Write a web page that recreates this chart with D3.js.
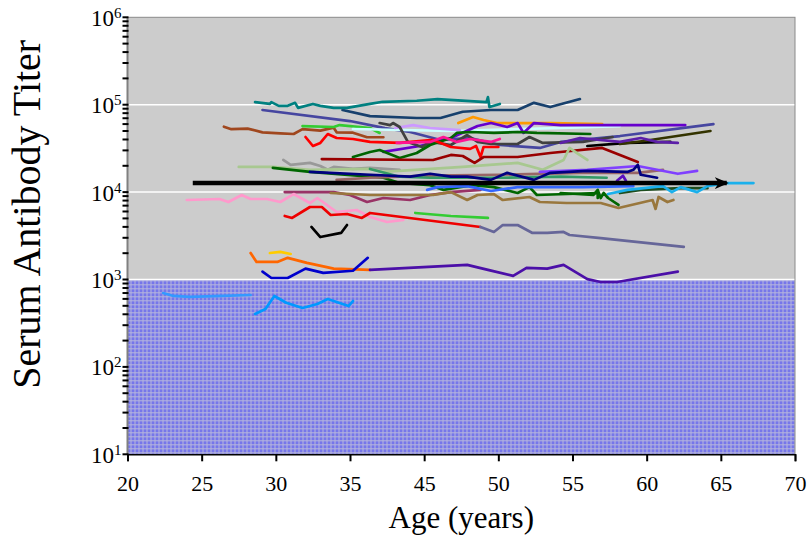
<!DOCTYPE html>
<meta charset="utf-8">

<!-- Load d3.js -->
<script src="https://d3js.org/d3.v7.min.js"></script>

<style>
    body { margin: 0; background: #fff; }
    text { font-family: "Liberation Serif", "Times New Roman", serif; fill: #000; }
    .subject { fill: none; stroke-width: 2.7; stroke-linejoin: round; stroke-linecap: round; }
</style>

<body>
<div id="my_dataviz"></div>

<script>

    // axis labels (the original axis skips the 40 label)
    var xTicks = [20, 25, 30, 35, 45, 50, 55, 60, 65, 70];
    var yExponents = [1, 2, 3, 4, 5, 6];
    var gridExponents = [3, 4, 5];
    var protectiveTiter = 1000;

    // population trend arrow: [age start, age end], titer
    var arrowAges = [24.4, 65.4];
    var arrowTiter = 12700;

    // individual subjects: [age, titer]
    var s01 = [[28.6,107000],[29.6,102000],[29.7,107000],[30.2,97000],[30.8,97000],[31.3,105000],[31.5,92000],[32.5,102000],[33.0,97000],[33.9,92000],[34.8,92000],[37.7,102000],[39.4,108000],[44.0,111000],[45.9,116000],[49.2,107000],[49.3,122000],[49.4,94000],[50.1,102000]];
    var s02 = [[34.5,87000],[37.7,74000],[44.0,70400],[46.1,70400],[47.6,83000],[49.5,87000],[51.3,87000],[52.4,105000],[53.5,94000],[55.5,116000]];
    var s03 = [[29.1,87000],[35.0,65000],[39.7,54000],[43.1,48700],[46.1,39500],[48.1,41600],[50.1,34600],[52.8,32000],[54.2,37500],[58.2,43800],[64.5,60000]];
    var s04 = [[26.5,56000],[27.0,52500],[28.1,53300],[29.1,48300],[30.3,47000],[31.2,46200],[31.8,52500],[33.0,50500],[33.9,54600],[34.1,48300],[35.4,47800],[37.3,42400],[39.5,42400]];
    var s05 = [[32.0,42700],[32.5,33700],[33.0,36500],[33.5,46200],[34.1,41600],[35.4,40500],[37.7,37500],[41.7,36500],[45.6,39500],[46.8,32800],[48.1,31200],[48.5,33700],[48.8,25200],[49.0,32800],[50.0,32800]];
    var s06 = [[31.8,57000],[33.9,55600],[34.3,58500],[37.7,54100],[39.0,47500]];
    var s07 = [[35.4,52700],[46.8,50000],[54.2,54100],[58.2,57000]];
    var s08 = [[41.1,54100],[43.5,58500],[45.4,54100],[47.4,51300]];
    var s09 = [[47.3,61700],[48.3,72300],[49.0,66800],[49.9,61700],[51.3,61700],[53.5,61700],[57.0,60000]];
    var s10 = [[39.5,28800],[44.4,33700],[46.8,41600],[48.6,57000],[49.5,61700],[50.6,55600],[51.3,61700],[51.7,47500],[52.4,61700],[54.2,58500],[62.6,58500]];
    var s11 = [[35.4,25200],[37.7,28800],[39.0,30300],[41.7,24600],[44.0,28000],[45.4,34600],[46.8,41600],[47.2,47500],[48.1,48700],[49.7,47500],[51.3,48700],[52.6,47500],[56.2,46200]];
    var s12 = [[39.0,61700],[40.4,58500],[40.8,61700],[41.7,55600],[42.8,37500],[44.7,32800],[45.4,37500],[45.9,36500],[46.8,34600],[47.9,45000],[48.6,37500],[49.5,35500],[51.3,35500],[52.1,42700],[53.0,36500],[55.7,37500],[57.7,42700]];
    var s13 = [[56.0,33700],[58.7,36500],[61.6,37500]];
    var s14 = [[58.2,35500],[59.8,38400],[64.3,50000]];
    var s15 = [[54.2,36500],[55.5,41600],[58.2,37500],[59.6,41600],[60.7,37500],[62.1,36500]];
    var s16 = [[33.1,23900],[45.6,23300],[46.8,26600],[47.6,25900],[48.4,21600],[49.0,25200],[51.3,25200],[53.5,28000],[57.0,32000],[59.4,22100]];
    var s17 = [[27.5,19400],[29.8,19400],[32.3,18000],[37.7,18400],[39.5,17000],[47.6,19400],[51.3,21600],[53.0,18000],[54.4,23300],[54.8,32000],[55.3,28000],[56.0,23300]];
    var s18 = [[30.5,23300],[31.0,20500],[32.3,21600],[33.0,19900],[33.5,18000],[33.9,19400],[35.4,18400],[37.7,18900],[41.7,18000]];
    var s19 = [[29.8,18900],[32.3,17000],[37.7,15000],[39.5,14600],[41.7,12700],[45.4,12000],[46.3,10600],[47.4,11400],[48.3,12000],[49.7,11400],[51.3,9760],[52.1,11400],[52.6,9260],[56.7,9760],[56.7,8560]];
    var s20 = [[32.3,17000],[37.7,15800],[43.1,15000],[45.4,16200],[46.8,15000],[47.9,15000],[49.5,13800],[50.6,16600],[52.4,13800],[53.5,16600],[56.0,17500],[58.7,17000],[59.1,18000],[59.4,20500],[59.6,15800],[60.7,14600]];
    var s21 = [[30.6,10000],[33.9,10000],[35.0,9260],[37.3,7700],[39.5,8560],[43.1,8120],[45.4,9260],[46.8,10000],[48.8,10600]];
    var s22 = [[34.1,13800],[37.7,14600],[45.4,15400],[50.1,15800],[55.5,16600],[59.4,16600],[61.1,18000]];
    var s23 = [[33.7,9760],[37.7,9260],[45.6,9260],[46.8,10000],[47.9,8120],[48.6,9260],[49.7,9500],[50.3,8120],[52.1,8790],[52.8,7700],[54.6,7500],[56.9,7500],[58.1,6580],[60.4,8120],[60.6,6410],[60.8,8790],[61.4,7700],[61.8,8120]];
    var s24 = [[45.2,10600],[45.9,11400],[47.9,11700],[49.5,10300],[51.3,11400],[55.7,11400],[59.1,11700]];
    var s25 = [[57.4,9500],[58.7,10600],[61.1,11700],[61.7,10000],[62.3,11400],[63.4,10000],[64.1,11700],[65.4,12700],[67.2,12700]];
    var s26 = [[54.2,9760],[56.4,9260],[56.7,10600],[56.9,8560],[57.1,9760],[57.4,8560],[58.1,7120]];
    var s27 = [[58.2,9760],[59.6,10600],[62.3,11100],[64.1,11100]];
    var s28 = [[24.0,8120],[26.2,8340],[26.8,7700],[27.7,9260],[28.3,8340],[29.4,8340],[30.3,7700],[31.2,9500],[32.3,7500],[32.8,8560],[34.1,5920],[35.9,6240],[37.7,5190],[40.0,4550],[42.2,4800]];
    var s29 = [[30.6,5330],[31.1,5060],[32.3,6750],[33.1,6750],[33.7,5470],[34.8,5620],[36.6,5060],[37.7,5770],[48.8,3990]];
    var s30 = [[43.8,5770],[46.8,5330],[49.3,5060]];
    var s31 = [[48.8,3990],[49.7,3500],[50.3,4200],[51.3,4200],[52.3,3410],[53.3,3410],[54.4,3500],[54.8,3230],[56.9,2980],[62.5,2360]];
    var s32 = [[32.4,3990],[33.0,3060],[34.4,3410],[34.8,4200]];
    var s33 = [[29.6,2010],[30.3,2070],[31.0,1960]];
    var s34 = [[28.3,2010],[28.7,1590],[30.1,1590],[30.8,1770],[32.1,1550],[33.9,1330],[37.7,1290]];
    var s35 = [[29.1,1230],[29.7,1040],[30.8,1040],[32.0,1330],[33.2,1190],[35.4,1260],[37.4,1770]];
    var s36 = [[37.7,1290],[47.9,1470],[49.3,1290],[51.0,1100],[51.9,1360],[53.3,1330],[54.4,1470],[56.0,1010],[56.9,936],[58.0,936],[62.1,1230]];
    var s37 = [[22.4,700],[23.1,648],[24.2,632],[26.4,648],[28.3,665]];
    var s38 = [[28.6,403],[29.3,460],[29.9,648],[30.7,542],[31.8,472],[32.8,524],[33.5,597],[34.1,552],[34.9,497],[35.4,567]];
    var s39 = [[52.8,17000],[56.0,18000],[59.4,19900],[62.1,16200],[63.4,17500]];
    var s40 = [[37.7,18400],[41.7,15000],[45.4,14600],[50.1,14600],[54.2,15000],[57.3,14600]];
    var s41 = [[41.3,36500],[45.4,37500],[46.3,42700],[47.2,37500],[48.1,40500],[49.5,37500],[50.1,40500]];
    var s42 = [[58.0,13500],[58.4,15400],[58.6,13500]];

    var subjects = [s03, s02, s01, s04, s06, s07, s08, s09, s10, s12, s11, s05, s41, s13, s14, s15, s16,
        s18, s17, s19, s22, s40, s39, s21, s23, s24, s26, s27, s25, s20, s42, s28, s29, s30, s31, s32,
        s33, s34, s35, s36, s37, s38];
    var subjectColors = ["#4646a0", "#17406d", "#008080", "#a0471e", "#33cc33", "#ccffff", "#cc99ff", "#ff9900",
        "#6600cc", "#404040", "#006400", "#ff0000", "#ff1493", "#000000", "#333300", "#5c1fa8", "#990000",
        "#999999", "#a8c890", "#006600", "#996666", "#339966", "#8040ff", "#993366", "#99773d", "#3366ff",
        "#006600", "#1e4d1e", "#1ab0ec", "#000080", "#5b0fbf", "#ff99cc", "#ee0000", "#33cc33", "#666699",
        "#000000", "#ffcc00", "#ff6600", "#0000cc", "#4b0fa8", "#3399ff", "#0099ff"];

    var serif = "'Liberation Serif', 'Times New Roman', serif";

    // set the dimensions and margins of the graph
    var margin = { top: 17.3, right: 12, bottom: 85.7, left: 127.5 },
        width = 807 - margin.left - margin.right,
        height = 540 - margin.top - margin.bottom;

    var svg = d3.select("#my_dataviz").append("svg")
        .attr("width", width + margin.left + margin.right)
        .attr("height", height + margin.top + margin.bottom)
        .append("g")
        .attr("transform", "translate(" + margin.left + "," + margin.top + ")");

    // evenly spaced ticks; 35 -> 45 takes a single step
    var step = width / (xTicks.length - 1);
    var x = d3.scaleLinear()
        .domain([20, 35, 45, 70])
        .range([0, 3 * step, 4 * step, width]);

    var y = d3.scaleLog()
        .domain([10, 1e6])
        .range([height, 0]);

    // pattern for the region under the protective level
    var defs = svg.append("defs");
    var pat = defs.append("pattern")
        .attr("id", "dots")
        .attr("patternUnits", "userSpaceOnUse")
        .attr("width", 4).attr("height", 4);
    pat.append("rect").attr("width", 4).attr("height", 4).attr("fill", "#7676ea");
    pat.append("rect").attr("y", 3).attr("width", 4).attr("height", 1).attr("fill", "#b6b6dc");
    pat.append("rect").attr("x", 3).attr("width", 1).attr("height", 4).attr("fill", "#b6b6dc");

    defs.append("marker")
        .attr("id", "head")
        .attr("markerUnits", "userSpaceOnUse")
        .attr("viewBox", "0 -6 14 12")
        .attr("refX", 12).attr("refY", 0)
        .attr("markerWidth", 14).attr("markerHeight", 12)
        .attr("orient", "auto")
        .append("path")
        .attr("d", "M0,-6L14,0L0,6L4,0Z")
        .attr("fill", "#000");

    // plot background
    svg.append("rect")
        .attr("width", width).attr("height", height)
        .attr("fill", "#cccccc");

    svg.append("rect")
        .attr("y", y(protectiveTiter))
        .attr("width", width)
        .attr("height", height - y(protectiveTiter))
        .attr("fill", "url(#dots)");

    // white gridlines
    svg.append("g")
        .selectAll("line")
        .data(gridExponents)
        .enter().append("line")
        .attr("x1", 0).attr("x2", width)
        .attr("y1", function (d) { return y(Math.pow(10, d)); })
        .attr("y2", function (d) { return y(Math.pow(10, d)); })
        .attr("stroke", "#fff")
        .attr("stroke-width", 1.5);

    // plot frame
    svg.append("rect")
        .attr("width", width).attr("height", height)
        .attr("fill", "none")
        .attr("stroke", "#8a8a8a")
        .attr("stroke-width", 1);

    // subject lines
    var line = d3.line()
        .x(function (d) { return x(d[0]); })
        .y(function (d) { return y(d[1]); });

    svg.append("g")
        .selectAll("path")
        .data(subjects)
        .enter().append("path")
        .attr("class", "subject")
        .attr("d", line)
        .attr("stroke", function (d, i) { return subjectColors[i]; });

    // trend arrow
    svg.append("line")
        .attr("x1", x(arrowAges[0])).attr("x2", x(arrowAges[1]))
        .attr("y1", y(arrowTiter)).attr("y2", y(arrowTiter))
        .attr("stroke", "#000")
        .attr("stroke-width", 4.5)
        .attr("marker-end", "url(#head)");

    // x axis
    var xAxis = svg.append("g")
        .attr("transform", "translate(0," + height + ")")
        .call(d3.axisBottom(x).tickValues(xTicks).tickSize(7).tickFormat(d3.format("d")));
    xAxis.attr("font-family", null).attr("font-size", null);
    xAxis.select(".domain").attr("stroke", "#000").attr("stroke-width", 1.5);
    xAxis.selectAll(".tick line").attr("stroke", "#000").attr("stroke-width", 2);
    xAxis.selectAll(".tick text")
        .attr("y", 37)
        .attr("dy", 0)
        .style("font-family", serif)
        .style("font-size", "22px");

    // y axis: major and minor ticks crossing the axis line
    svg.append("line")
        .attr("x1", 0).attr("x2", 0)
        .attr("y1", 0).attr("y2", height)
        .attr("stroke", "#808080")
        .attr("stroke-width", 2);

    svg.append("g")
        .selectAll("line")
        .data(y.ticks())
        .enter().append("line")
        .attr("x1", -5).attr("x2", 1)
        .attr("y1", function (d) { return y(d); })
        .attr("y2", function (d) { return y(d); })
        .attr("stroke", "#000")
        .attr("stroke-width", 2);

    var yLab = svg.append("g")
        .selectAll("text")
        .data(yExponents)
        .enter().append("text")
        .attr("x", -6)
        .attr("y", function (d) { return y(Math.pow(10, d)) + 8.5; })
        .attr("text-anchor", "end")
        .style("font-family", serif)
        .style("font-size", "23px");
    yLab.append("tspan").text("10");
    yLab.append("tspan")
        .attr("dy", -8)
        .style("font-size", "15px")
        .text(function (d) { return d; });

    // axis titles
    svg.append("text")
        .attr("x", width / 2)
        .attr("y", height + 74)
        .attr("text-anchor", "middle")
        .style("font-family", serif)
        .style("font-size", "31px")
        .text("Age (years)");

    svg.append("text")
        .attr("transform", "translate(" + (-88) + "," + 197 + ") rotate(-90)")
        .attr("text-anchor", "middle")
        .style("font-family", serif)
        .style("font-size", "40px")
        .text("Serum Antibody Titer");

</script>
</body>
